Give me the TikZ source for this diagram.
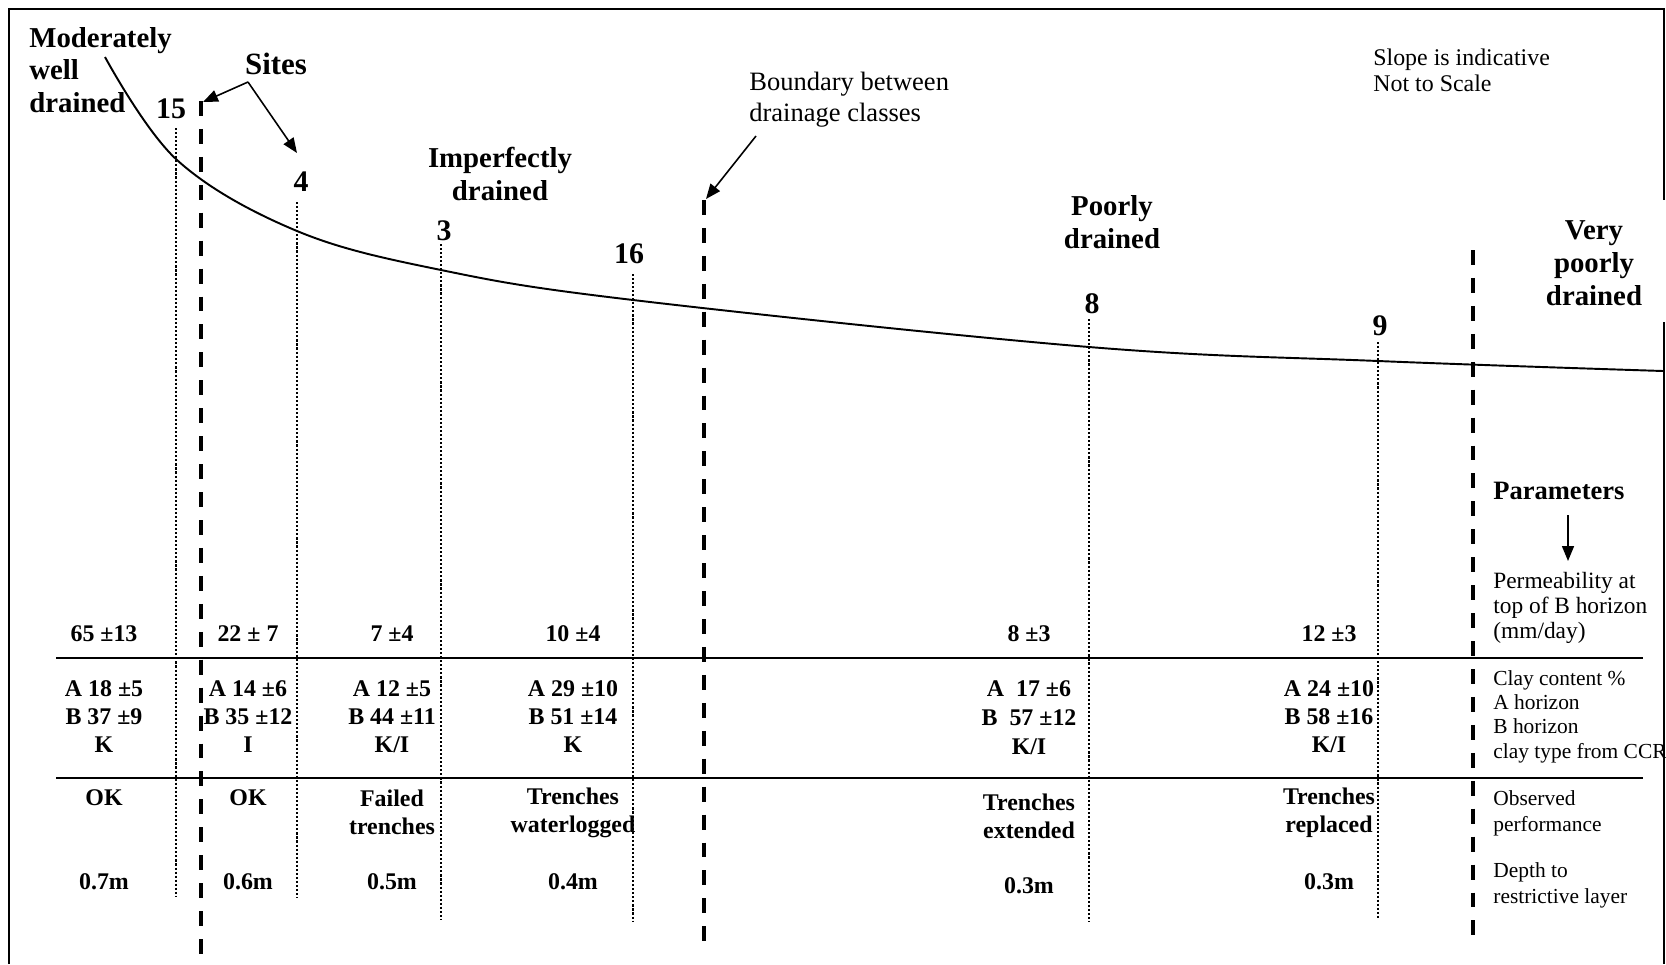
\documentclass[tikz,border=0pt]{standalone}
\usepackage{fontspec}
\setmainfont{Liberation Serif}
\usetikzlibrary{arrows.meta}

\tikzset{
  classlbl/.style={font=\fontsize{16.4}{18.7}\selectfont\bfseries, align=center, inner sep=0pt},
  sitenum/.style={font=\fontsize{17}{20}\selectfont\bfseries, inner sep=0pt},
  note/.style={font=\fontsize{15.1}{17.6}\selectfont, align=left, anchor=west, inner sep=0pt},
  cell/.style={font=\fontsize{13.6}{15.8}\selectfont\bfseries, align=center, inner sep=0pt},
  param/.style={font=\fontsize{12.2}{13.8}\selectfont, align=left, anchor=west, inner sep=0pt},
  siteline/.style={line width=1.4pt, dash pattern=on 1.2pt off 1.1pt},
  classline/.style={line width=2.2pt, dash pattern=on 8.5pt off 7.4pt},
  pointer/.style={line width=0.9pt, -{Triangle[length=8.5pt,width=6.8pt]}},
  frame/.style={line width=1.1pt},
  rule/.style={line width=1.3pt}
}

\begin{document}
\begin{tikzpicture}[x=0.02cm, y=-0.02cm]
  \useasboundingbox (0,0) rectangle (1666,964);
  \draw[frame] (9,964) -- (9,9) -- (1664,9) -- (1664,200);
  \draw[frame] (1664,322) -- (1664,964);

  \draw[line width=1.1pt] plot[smooth, tension=0.6] coordinates
    {(105,57) (177,160) (297,231) (441,270) (633,300) (1089,347) (1378,361) (1663,371)};

  \foreach \nm/\x/\lx/\ly/\ty/\by in {15/176/171/109/128/896, 4/297/301/182/202/898,
      3/441/444/231/244/919, 16/633/629/254/274/922, 8/1089/1092/304/319/922, 9/1378/1380/326/342/919} {
    \node[sitenum] (site\nm) at (\lx,\ly) {\nm};
    \coordinate (top\nm) at (\x,\ty);
    \coordinate (foot\nm) at (\x,\by);
    \draw[siteline] (top\nm) -- (foot\nm);
  }

  \coordinate (mwtop) at (201,101);
  \coordinate (mwfoot) at (201,964);
  \coordinate (iptop) at (704,200);
  \coordinate (ipfoot) at (704,946);
  \coordinate (vptop) at (1473,250);
  \coordinate (vpfoot) at (1473,940);
  \draw[classline] (mwtop) -- (mwfoot);
  \draw[classline] (iptop) -- (ipfoot);
  \draw[classline] (vptop) -- (vpfoot);

  \draw[rule] (56,658) -- (1643,658);
  \draw[rule] (56,778) -- (1643,778);

  \node[classlbl, anchor=west, align=left] (mwd) at (29,70) {Moderately\\well\\drained};
  \node[classlbl] (ipd) at (500,174) {Imperfectly\\drained};
  \node[classlbl] (pd) at (1112,222) {Poorly\\drained};
  \node[classlbl] (vpd) at (1594,263) {Very\\poorly\\drained};

  \node[classlbl, font=\fontsize{17.6}{20}\selectfont\bfseries] (sites) at (276,64) {Sites};
  \coordinate (sitesfoot) at (248,82);
  \coordinate (mwtip) at (203,102);
  \coordinate (site4tip) at (297,153);
  \draw[pointer] (sitesfoot) -- (mwtip);
  \draw[pointer] (sitesfoot) -- (site4tip);

  \node[note] (bound) at (749,99.5) {Boundary between\\drainage classes};
  \coordinate (boundfoot) at (756,136);
  \coordinate (iptip) at (706,199);
  \draw[pointer] (boundfoot) -- (iptip);

  \node[note, font=\fontsize{13.6}{15.1}\selectfont] (slope) at (1373,70.5) {Slope is indicative\\Not to Scale};

  \node[note, font=\fontsize{15.1}{17}\selectfont\bfseries] (params) at (1493,491) {Parameters};
  \coordinate (paramfoot) at (1568,515);
  \coordinate (paramtip) at (1568,561);
  \draw[pointer] (paramfoot) -- (paramtip);

  \node[param, font=\fontsize{13.3}{14.2}\selectfont] (permlbl) at (1493,608) {Permeability at\\top of B horizon\\(mm/day)};
  \node[param] (claylbl) at (1493,716.5) {Clay content \%\\A horizon\\B horizon\\clay type from CCR};
  \node[param, font=\fontsize{12.2}{14.7}\selectfont] (perflbl) at (1493,813) {Observed\\performance};
  \node[param, font=\fontsize{12.2}{14.7}\selectfont] (depthlbl) at (1493,885) {Depth to\\restrictive layer};

  \foreach \i/\x/\val in {1/104/65 ±13, 2/248/22 ± 7, 3/392/7 ±4, 4/573/10 ±4, 5/1029/8 ±3, 6/1329/12 ±3} {
    \node[cell] (perm\i) at (\x,634) {\val};
  }

  \node[cell] (clay1) at (104,716.5) {A 18 ±5\\B 37 ±9\\K};
  \node[cell] (clay2) at (248,716.5) {A 14 ±6\\B 35 ±12\\I};
  \node[cell] (clay3) at (392,716.5) {A 12 ±5\\B 44 ±11\\K/I};
  \node[cell] (clay4) at (573,716.5) {A 29 ±10\\B 51 ±14\\K};
  \node[cell, font=\fontsize{13.6}{16.4}\selectfont\bfseries] (clay5) at (1029,718) {A~~17 ±6\\B~~57 ±12\\K/I};
  \node[cell] (clay6) at (1329,716.5) {A 24 ±10\\B 58 ±16\\K/I};

  \node[cell] (perf1) at (104,798) {OK};
  \node[cell] (perf2) at (248,798) {OK};
  \node[cell] (perf3) at (392,812.5) {Failed\\trenches};
  \node[cell] (perf4) at (573,812.5) {Trenches\\waterlogged};
  \node[cell] (perf5) at (1029,816.5) {Trenches\\extended};
  \node[cell] (perf6) at (1329,812.5) {Trenches\\replaced};

  \foreach \i/\x/\y/\val in {1/104/882/0.7m, 2/248/882/0.6m, 3/392/882/0.5m, 4/573/882/0.4m, 5/1029/886/0.3m, 6/1329/882/0.3m} {
    \node[cell] (depth\i) at (\x,\y) {\val};
  }
\end{tikzpicture}
\end{document}
